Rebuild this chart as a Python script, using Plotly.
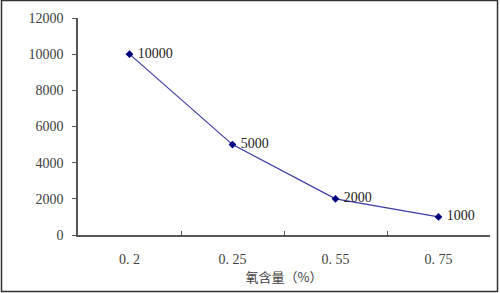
import plotly.graph_objects as go

categories = ["0. 2", "0. 25", "0. 55", "0. 75"]
values = [10000, 5000, 2000, 1000]
value_labels = ["10000", "5000", "2000", "1000"]
y_ticks = [0, 2000, 4000, 6000, 8000, 10000, 12000]
y_tick_labels = ["0", "2000", "4000", "6000", "8000", "10000", "12000"]

W, H = 500, 293
L, R, T, B = 78, 10, 18, 58
pw, ph = W - L - R, H - T - B

def px_x(x):
    return (x - L) / pw

def px_y(y):
    return (H - B - y) / ph

font = "Liberation Serif, DejaVu Serif, serif"

fig = go.Figure()
fig.add_trace(go.Scatter(
    x=categories, y=values, mode="lines+markers+text",
    text=[" " + t for t in value_labels], textposition="middle right",
    textfont=dict(family=font, size=14, color="#222222"),
    line=dict(color="#3a3aa8", width=1.2),
    marker=dict(symbol="diamond", size=6, color="#000080"),
    cliponaxis=False, showlegend=False,
))

fig.update_layout(
    width=W, height=H,
    margin=dict(l=L, r=R, t=T, b=B),
    paper_bgcolor="white", plot_bgcolor="white",
    font=dict(family=font, size=14, color="#404040"),
    xaxis=dict(
        type="category", range=[-0.5, 3.5],
        showline=True, linecolor="#555555", linewidth=1.5,
        ticks="inside", ticklen=4, tickcolor="#555555",
        tickson="boundaries", showgrid=False, zeroline=False,
        title=dict(text="氧含量（%）", font=dict(family="Noto Sans CJK SC", size=13, color="#404040"), standoff=3),
        tickfont=dict(family=font, size=14, color="#404040"),
        ticklabelstandoff=10,
    ),
    yaxis=dict(
        range=[0, 12000], tickvals=y_ticks, ticktext=y_tick_labels,
        showline=True, linecolor="#555555", linewidth=1.5,
        ticks="outside", ticklen=4, tickcolor="#555555",
        showgrid=False, zeroline=False,
        tickfont=dict(family=font, size=14, color="#404040"),
        ticklabelstandoff=6,
    ),
    shapes=[
        dict(type="rect", xref="paper", yref="paper",
             x0=px_x(1.5), x1=px_x(497.5), y0=px_y(291.5), y1=px_y(0.5),
             line=dict(color="#333333", width=1.5)),
    ],
)

fig.write_html("out.html")
